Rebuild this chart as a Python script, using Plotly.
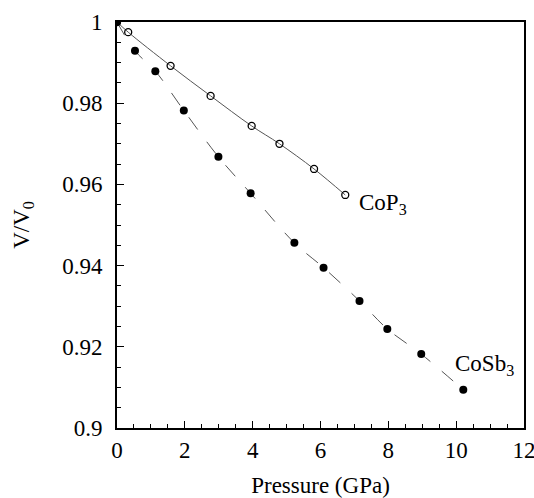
import plotly.graph_objects as go

cop3_p = [0.0, 0.33, 1.58, 2.76, 3.97, 4.79, 5.81, 6.73]
cop3_v = [1.0, 0.9975, 0.9892, 0.9818, 0.9744, 0.9700, 0.9638, 0.9574]

cosb3_p = [0.0, 0.53, 1.13, 1.97, 2.99, 3.94, 5.23, 6.09, 7.15, 7.97, 8.97, 10.21]
cosb3_v = [1.0, 0.9929, 0.9879, 0.9782, 0.9668, 0.9578, 0.9456, 0.9395, 0.9313, 0.9244, 0.9182, 0.9094]

x_ticks = [0, 2, 4, 6, 8, 10, 12]
y_ticks = [0.9, 0.92, 0.94, 0.96, 0.98, 1.0]

FONT = "Liberation Serif"
F = dict(family=FONT, size=23, color="black")

fig = go.Figure()
fig.add_trace(go.Scatter(
    x=cop3_p, y=cop3_v, mode="lines+markers",
    line=dict(color="#555555", width=1, shape="spline"),
    marker=dict(symbol="circle-open", size=7, color="black", line=dict(width=1.3, color="black")),
    showlegend=False))
fig.add_trace(go.Scatter(
    x=cosb3_p, y=cosb3_v, mode="lines+markers",
    line=dict(color="#555555", width=1, dash="longdash", shape="spline"),
    marker=dict(symbol="circle", size=8, color="black"),
    showlegend=False))

fig.add_annotation(x=7.08, y=0.9552, text="CoP<sub>3</sub>", showarrow=False,
                   xanchor="left", yanchor="middle", font=F)
fig.add_annotation(x=9.90, y=0.9155, text="CoSb<sub>3</sub>", showarrow=False,
                   xanchor="left", yanchor="middle", font=F)

fig.update_layout(
    width=534, height=498,
    margin=dict(l=117, r=10, t=22, b=70, autoexpand=False),
    paper_bgcolor="white", plot_bgcolor="white",
    font=F,
    xaxis=dict(
        range=[0, 12], tickmode="array", tickvals=x_ticks, automargin=False,
        tickfont=F, ticklabeloverflow="allow",
        ticks="inside", ticklen=7, tickwidth=1, tickcolor="black",
        minor=dict(dtick=0.5, ticks="inside", ticklen=4, tickcolor="black", tick0=0),
        showline=True, linewidth=2, linecolor="black", mirror=True,
        showgrid=False, zeroline=False,
        title=dict(text="Pressure (GPa)", standoff=16, font=F),
    ),
    yaxis=dict(
        range=[0.9, 1.0], tickmode="array", tickvals=y_ticks, tickformat=".2~f",
        automargin=False, tickfont=F, ticklabeloverflow="allow", ticklabelstandoff=8,
        ticks="inside", ticklen=7, tickwidth=1, tickcolor="black",
        minor=dict(dtick=0.005, ticks="inside", ticklen=4, tickcolor="black", tick0=0.9),
        showline=True, linewidth=2, linecolor="black", mirror=True,
        showgrid=False, zeroline=False,
        title=dict(text="V/V<sub>0</sub>", standoff=26, font=F),
    ),
)

fig.write_html("out.html")
